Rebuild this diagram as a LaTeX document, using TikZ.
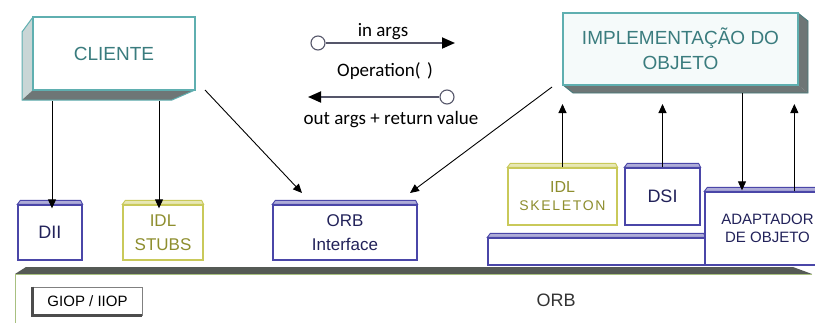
\documentclass[tikz,border=0pt]{standalone}
\usepackage{fontspec}
\setmainfont{Liberation Sans}
\newfontfamily\calfont{Carlito}
\usetikzlibrary{arrows.meta,calc}

\definecolor{tealedge}{HTML}{5FAFB0}
\definecolor{tealtext}{HTML}{3A7C7E}
\definecolor{sideface}{HTML}{C9D6D6}
\definecolor{darkface}{HTML}{6E7676}
\definecolor{navyedge}{HTML}{4A46A8}
\definecolor{navytext}{HTML}{22225A}
\definecolor{oliveedge}{HTML}{C9C95A}
\definecolor{olivetext}{HTML}{8E8E2E}
\definecolor{orbtop}{HTML}{555A55}
\definecolor{greenedge}{HTML}{A8C080}
\definecolor{argline}{HTML}{55566A}

\tikzset{
  box/.style={draw, fill=white, line width=1.3pt, inner sep=0pt, align=center},
  bluebox/.style={box, draw=navyedge, text=navytext},
  yellowbox/.style={box, draw=oliveedge, text=olivetext},
  bigbox/.style={box, draw=tealedge, line width=1.4pt, text=tealtext,
    font=\fontsize{19}{25}\selectfont},
  arr/.style={-{Triangle[length=9pt,width=8pt]}, line width=0.9pt, black},
  argarr/.style={-{Triangle[length=13pt,width=11pt,color=black,fill=black]}, line width=1.8pt, argline},
  argdot/.style={circle, draw=argline, line width=1.1pt, fill=white,
    minimum size=14pt, inner sep=0pt},
  arglabel/.style={font=\calfont\fontsize{19}{22}\selectfont, text=black, inner sep=0pt},
}

% raised rim along the top edge of a flat box
\newcommand{\topcap}[2]{%
  \filldraw[draw=#2, fill=#2!45, line width=0.9pt]
    (#1.north west) -- ++(3,-4) -- ($(#1.north east)+(-2,-4)$) -- (#1.north east) -- cycle;}

\begin{document}
\begin{tikzpicture}[x=1pt, y=-1pt]
\useasboundingbox (0,0) rectangle (815,322);
\clip (0,0) rectangle (815,322);
\fill[white] (0,0) rectangle (815,322);

% ---------------- ORB bus ----------------
\fill[white] (15,272) rectangle (830,330);
\fill[orbtop] (15,274) -- (26,267) -- (793,267) -- (812,274) -- cycle;
\draw[greenedge, line width=1.5pt] (15,274.5) -- (812,274.5);
\draw[greenedge, line width=1pt] (15,274) -- (15,330);
\node[draw=gray, fill=white, line width=0.8pt, minimum width=109pt, minimum height=28pt,
  inner sep=0pt, font=\fontsize{15}{18}\selectfont] (giop) at (87.5,301) {GIOP / IIOP};
\draw[black!70, line width=2.5pt] (giop.north west) -- (giop.south west) -- (giop.south east);
\node[font=\fontsize{18}{20}\selectfont, text=black!80] (orb) at (556,300) {ORB};

% ---------------- client side ----------------
\fill[sideface] (33,17) -- (22,32) -- (22,100) -- (33,90) -- cycle;
\fill[darkface] (33,90) -- (195,90) -- (172,100) -- (22,100) -- cycle;
\draw[tealedge, line width=1pt] (33,17) -- (22,32) -- (22,100) -- (172,100) -- (195,90);
\node[bigbox, minimum width=162pt, minimum height=73pt] (cli) at (114,53.5) {CLIENTE};

% ---------------- object implementation ----------------
\fill[darkface] (798,13) -- (808,21) -- (808,93) -- (798,85) -- cycle;
\fill[darkface] (563,85) -- (798,85) -- (808,93) -- (573,93) -- cycle;
\draw[tealedge!70!black, line width=0.8pt] (798,13) -- (808,21) -- (808,93) -- (573,93) -- (563,85);
\node[bigbox, fill=tealedge!6, minimum width=235pt, minimum height=72pt] (impl) at (680.5,49)
  {IMPLEMENTAÇÃO DO\\OBJETO};

% ---------------- invocation legend ----------------
\node[argdot] (o1) at (318,43) {};
\coordinate (a1) at (455,43);
\draw[argarr] (o1.east) -- (a1);
\node[arglabel] (inargs) at (383,32) {in args};
\node[arglabel] (op) at (385,71) {Operation(\,\,)};
\node[argdot] (o2) at (447,97) {};
\coordinate (a2) at (308,97);
\draw[argarr] (o2.west) -- (a2);
\node[arglabel] (outargs) at (391,120) {out args + return value};

% ---------------- client-side components ----------------
\node[bluebox, minimum width=64pt, minimum height=55pt,
  font=\fontsize{18}{24}\selectfont] (dii) at (50,232.5) {DII};
\topcap{dii}{navyedge}
\node[yellowbox, minimum width=80pt, minimum height=55pt,
  font=\fontsize{17}{24}\selectfont] (stubs) at (163,232.5) {IDL\\STUBS};
\topcap{stubs}{oliveedge}
\node[bluebox, minimum width=144pt, minimum height=55pt,
  font=\fontsize{17}{24}\selectfont] (orbi) at (345,232.5) {ORB\\Interface};
\topcap{orbi}{navyedge}

% ---------------- server-side components ----------------
\node[bluebox, minimum width=217pt, minimum height=27pt] (plat) at (596.5,251.5) {};
\topcap{plat}{navyedge}
\node[yellowbox, minimum width=109pt, minimum height=57pt,
  font=\fontsize{14}{18}\selectfont] (skel) at (562.5,196.5)
  {\fontsize{16}{18}\selectfont IDL\\\addfontfeature{LetterSpace=12}SKELETON};
\topcap{skel}{oliveedge}
\node[bluebox, minimum width=75pt, minimum height=57pt,
  font=\fontsize{18}{20}\selectfont] (dsi) at (662.5,196.5) {DSI};
\topcap{dsi}{navyedge}
\node[bluebox, minimum width=125pt, minimum height=73pt,
  font=\fontsize{15}{18}\selectfont] (adap) at (767.5,228.5) {ADAPTADOR\\DE OBJETO};
\topcap{adap}{navyedge}

% ---------------- connectors ----------------
\coordinate (cliA) at (52,101);
\coordinate (cliB) at (159,101);
\draw[arr] (cliA) -- ($(cliA |- dii.north)+(0,4)$);
\draw[arr] (cliB) -- ($(cliB |- stubs.north)+(0,4)$);

\coordinate (cliC) at (205,90);
\coordinate (orbiL) at (302,193);
\draw[arr] (cliC) -- (orbiL);
\coordinate (implC) at (552,87);
\coordinate (orbiR) at (410,193);
\draw[arr] (implC) -- (orbiR);

\coordinate (implbase) at (680,104);
\draw[arr] (skel.north) -- (skel.north |- implbase);
\draw[arr] (dsi.north) -- (dsi.north |- implbase);
\coordinate (implD) at (742,93);
\draw[arr] (implD) -- ($(implD |- adap.north)+(0,-1)$);
\coordinate (adapU) at ($(adap.north west)+(90,0)$);
\draw[arr] (adapU) -- (adapU |- implbase);
\end{tikzpicture}
\end{document}
